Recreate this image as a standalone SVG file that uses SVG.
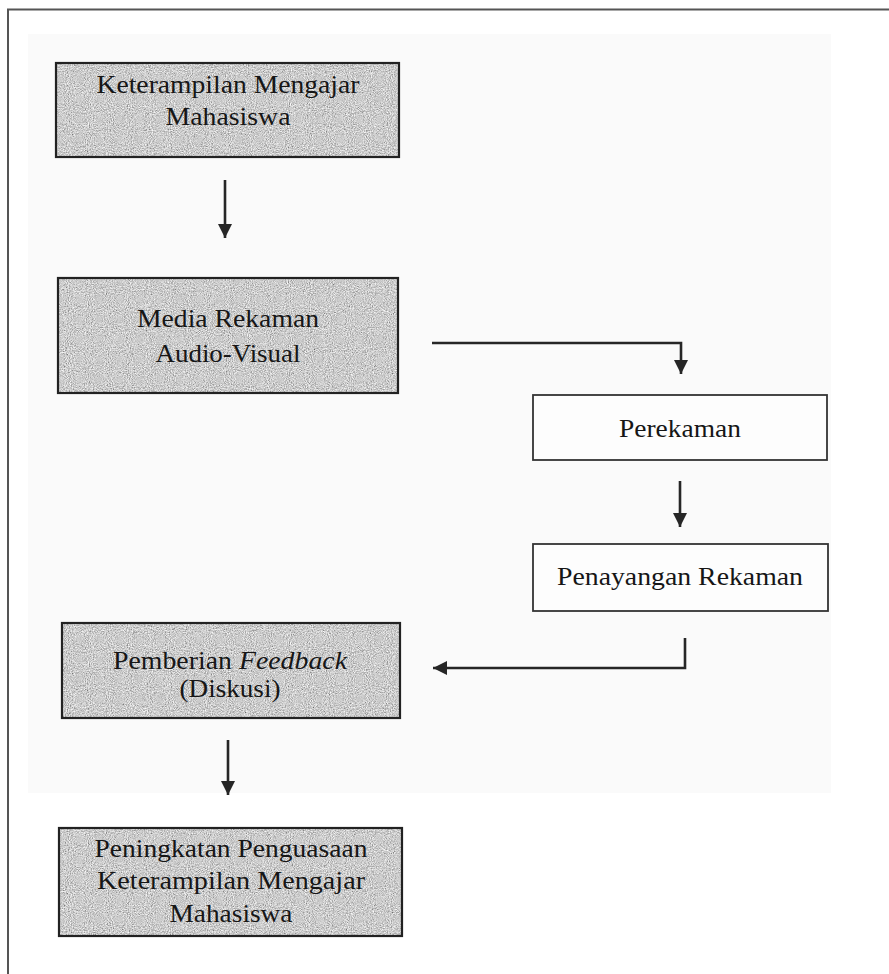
<svg xmlns="http://www.w3.org/2000/svg" width="889" height="974" viewBox="0 0 889 974">
  <style>
    .frame { fill: none; stroke: #555; stroke-width: 2; }
    .shade { stroke: none; fill: #999; filter: url(#grain); }
    .box { fill: none; stroke: #222; stroke-width: 2.2; }
    .plain { fill: #fdfdfd; stroke: #333; stroke-width: 1.8; }
    .t { font-family: "Liberation Serif", "Times New Roman", serif; font-size: 26px; fill: #161616; text-anchor: middle; }
    .conn { fill: none; stroke: #262626; stroke-width: 2.6; }
  </style>
  <defs>
    <filter id="grain" x="0" y="0" width="100%" height="100%">
      <feTurbulence type="fractalNoise" baseFrequency="0.95" numOctaves="2" seed="7" result="n"/>
      <feColorMatrix in="n" type="saturate" values="0" result="g"/>
      <feComponentTransfer in="g" result="m">
        <feFuncR type="linear" slope="1.4" intercept="-0.1"/>
        <feFuncG type="linear" slope="1.4" intercept="-0.1"/>
        <feFuncB type="linear" slope="1.4" intercept="-0.1"/>
        <feFuncA type="linear" slope="0" intercept="1"/>
      </feComponentTransfer>
      <feComposite in="m" in2="SourceGraphic" operator="in"/>
    </filter>
    <marker id="ah" markerUnits="userSpaceOnUse" markerWidth="16" markerHeight="16" refX="14" refY="7" orient="auto">
      <path d="M0,0 L14,7 L0,14 Z" fill="#262626"/>
    </marker>
  </defs>

  <rect x="0" y="0" width="889" height="974" fill="#ffffff"/>
  <rect x="28" y="34" width="803" height="759" fill="#fafafa"/>
  <path class="frame" d="M889,9.5 H8 V974"/>

  <g id="n1">
    <rect class="shade" x="56" y="63" width="343" height="94"/>
    <rect class="box" x="56" y="63" width="343" height="94"/>
    <text class="t" x="228" y="93" textLength="263" lengthAdjust="spacingAndGlyphs">Keterampilan Mengajar</text>
    <text class="t" x="228" y="125" textLength="125" lengthAdjust="spacingAndGlyphs">Mahasiswa</text>
  </g>

  <g id="n2">
    <rect class="shade" x="58" y="278" width="340" height="115"/>
    <rect class="box" x="58" y="278" width="340" height="115"/>
    <text class="t" x="228" y="327" textLength="182" lengthAdjust="spacingAndGlyphs">Media Rekaman</text>
    <text class="t" x="228" y="362" textLength="145" lengthAdjust="spacingAndGlyphs">Audio-Visual</text>
  </g>

  <g id="n3">
    <rect class="plain" x="533" y="395" width="294" height="65"/>
    <text class="t" x="680" y="437" textLength="122" lengthAdjust="spacingAndGlyphs">Perekaman</text>
  </g>

  <g id="n4">
    <rect class="plain" x="533" y="544" width="295" height="67"/>
    <text class="t" x="680" y="585" textLength="246" lengthAdjust="spacingAndGlyphs">Penayangan Rekaman</text>
  </g>

  <g id="n5">
    <rect class="shade" x="62" y="623" width="338" height="95"/>
    <rect class="box" x="62" y="623" width="338" height="95"/>
    <text class="t" x="230" y="669" textLength="234" lengthAdjust="spacingAndGlyphs">Pemberian <tspan font-style="italic">Feedback</tspan></text>
    <text class="t" x="230" y="697" textLength="101" lengthAdjust="spacingAndGlyphs">(Diskusi)</text>
  </g>

  <g id="n6">
    <rect class="shade" x="59" y="828" width="343" height="108"/>
    <rect class="box" x="59" y="828" width="343" height="108"/>
    <text class="t" x="231" y="857" textLength="273" lengthAdjust="spacingAndGlyphs">Peningkatan Penguasaan</text>
    <text class="t" x="231" y="889" textLength="268" lengthAdjust="spacingAndGlyphs">Keterampilan Mengajar</text>
    <text class="t" x="231" y="922" textLength="123" lengthAdjust="spacingAndGlyphs">Mahasiswa</text>
  </g>

  <g id="connectors">
    <path class="conn" d="M225,180 V238" marker-end="url(#ah)"/>
    <path class="conn" d="M432,343 H681 V374" marker-end="url(#ah)"/>
    <path class="conn" d="M680,481 V527" marker-end="url(#ah)"/>
    <path class="conn" d="M685,638 V668 H433" marker-end="url(#ah)"/>
    <path class="conn" d="M228,740 V795" marker-end="url(#ah)"/>
  </g>
</svg>
